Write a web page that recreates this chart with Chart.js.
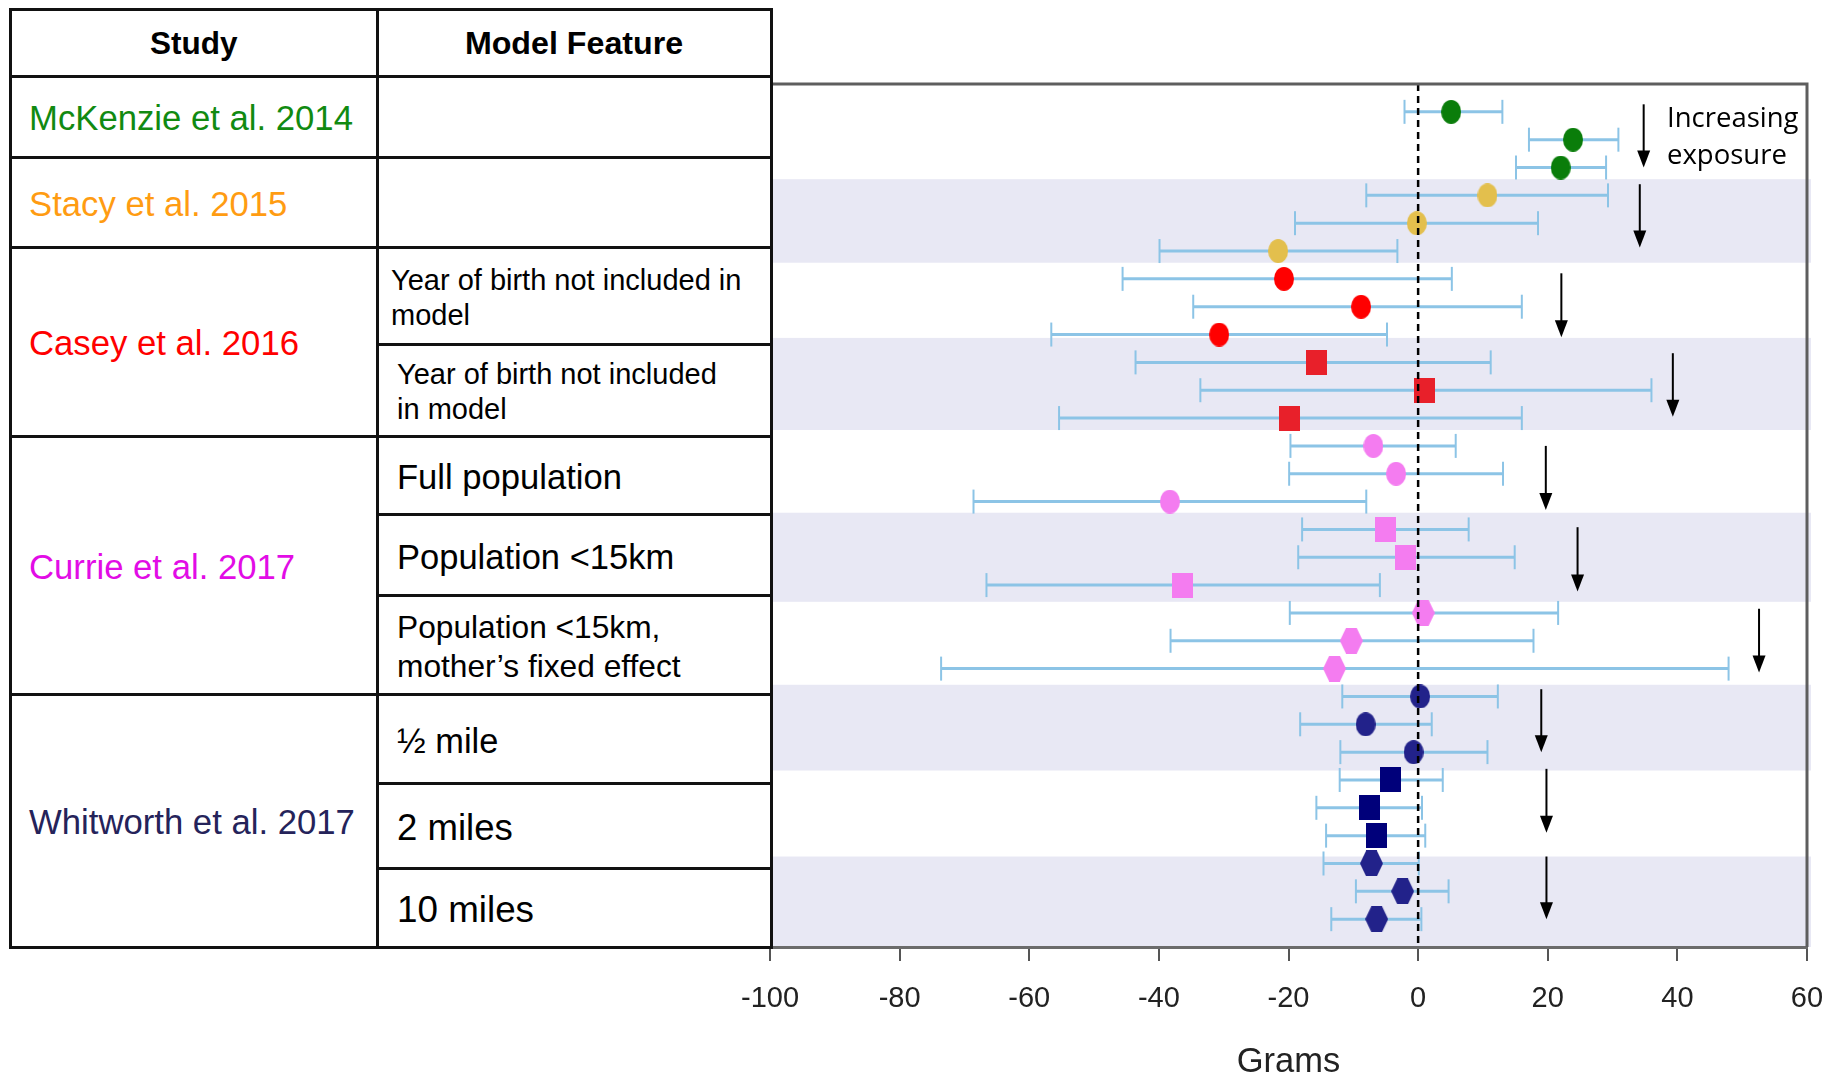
<!DOCTYPE html>
<html>
<head>
<meta charset="utf-8">
<script src="https://cdn.jsdelivr.net/npm/chart.js@4.4.0/dist/chart.umd.min.js"></script>
<style>
  html, body { margin: 0; padding: 0; background: #fff; }
  body { width: 1829px; height: 1078px; overflow: hidden; position: relative; font-family: "Liberation Sans", Arial, sans-serif; }
  #plot { position: absolute; left: 0; top: 0; }
  .cell { position: absolute; box-sizing: border-box; border: 3px solid #111; display: flex; align-items: center; background: #fff; color: #000; padding-top: 4px; }
  .head { justify-content: center; font-weight: bold; font-size: 31.5px; padding-top: 2px; }
</style>
</head>
<body>
<canvas id="plot" width="1829" height="1078"></canvas>
<div id="table"></div>
<script>
// studies (left table)
const studies = ["McKenzie et al. 2014", "Stacy et al. 2015", "Casey et al. 2016", "Currie et al. 2017", "Whitworth et al. 2017"];
const studyColors = ["#118a11", "#ff9c12", "#ff0000", "#e20ce6", "#25235a"];
const features = ["", "", "Year of birth not included in<br>model", "Year of birth not included<br>in model",
  "Full population", "Population &lt;15km", "Population &lt;15km,<br>mother’s fixed effect",
  "½ mile", "2 miles", "10 miles"];

// estimates and 95% CI, grams (top row first)
const estimate = [5.1, 23.9, 22.0, 10.7, -0.2, -21.6, -20.7, -8.8, -30.7, -15.7, 1.0, -19.9,
  -6.9, -3.4, -38.3, -5.1, -1.9, -36.3, 0.8, -10.3, -12.9, 0.3, -8.1, -0.7, -4.3, -7.5, -6.4, -7.2, -2.4, -6.4];
const lower = [-2.1, 17.1, 15.1, -8.0, -19.0, -39.9, -45.6, -34.7, -56.6, -43.6, -33.6, -55.4,
  -19.7, -19.9, -68.6, -17.9, -18.5, -66.6, -19.8, -38.2, -73.6, -11.7, -18.2, -12.0, -12.1, -15.7, -14.2, -14.6, -9.6, -13.4];
const upper = [13.0, 30.9, 29.0, 29.3, 18.5, -3.2, 5.2, 16.0, -4.8, 11.2, 36.0, 16.0,
  5.8, 13.1, -8.0, 7.8, 14.9, -5.9, 21.6, 17.8, 47.9, 12.3, 2.1, 10.7, 3.8, 0.6, 1.1, 0.1, 4.7, 0.5];

// one marker per block of three rows
const blockShape = ["ellipse", "ellipse", "ellipse", "square", "ellipse", "square", "hexagon", "ellipse", "square", "hexagon"];
const blockColor = ["#0a7d0a", "#e3bf4d", "#ff0000", "#e8202a", "#f47cf0", "#f47cf0", "#f47cf0", "#22228a", "#00007a", "#22228a"];

// "increasing exposure" arrows: x value, from row, to row
const arrowX = [34.8, 34.2, 22.1, 39.3, 19.7, 24.6, 52.6, 19.0, 19.8, 19.8];
const arrowFrom = [-0.27, 2.6, 5.8, 8.67, 12.0, 14.92, 17.85, 20.74, 23.6, 26.75];
const arrowTo = [2.0, 4.87, 8.1, 10.95, 14.3, 17.23, 20.14, 23.0, 25.9, 29.0];

const xTicks = [-100, -80, -60, -40, -20, 0, 20, 40, 60];
const bands = [[2.42, 5.42], [8.12, 11.43], [14.4, 17.6], [20.58, 23.66], [26.75, 30]];

// ---- table ----
const rowEdges = [9, 76, 157, 247, 344, 436, 514, 595, 694, 783, 868, 947];
const colEdges = [10.5, 377, 771];
const studySpan = [[1, 2], [2, 3], [3, 5], [5, 8], [8, 11]];
const featSize = [34, 34, 29, 29, 34.6, 34.5, 31.7, 34.4, 36.6, 36.8];
const featLine = [40, 40, 35, 35, 40, 40, 38.5, 40, 40, 40];
const featPad = [18, 18, 12.5, 18.5, 18.5, 18.5, 18.5, 18.5, 18.5, 18.5];

function cell(x0, y0, x1, y1, cls, style, html) {
  return `<div class="cell ${cls}" style="left:${x0 - 1.5}px;top:${y0 - 1.5}px;width:${x1 - x0 + 3}px;height:${y1 - y0 + 3}px;${style}">${html}</div>`;
}

let t = "";
t += cell(colEdges[0], rowEdges[0], colEdges[1], rowEdges[1], "head", "", "Study");
t += cell(colEdges[1], rowEdges[0], colEdges[2], rowEdges[1], "head", "font-size:32.2px;", "Model Feature");
studies.forEach((s, i) => {
  const [a, b] = studySpan[i];
  t += cell(colEdges[0], rowEdges[a], colEdges[1], rowEdges[b], "",
    `font-size:34.7px;padding-left:17px;color:${studyColors[i]};`, s);
});
features.forEach((f, i) => {
  t += cell(colEdges[1], rowEdges[i + 1], colEdges[2], rowEdges[i + 2], "",
    `font-size:${featSize[i]}px;line-height:${featLine[i]}px;padding-left:${featPad[i]}px;`, `<div>${f}</div>`);
});
document.getElementById("table").innerHTML = t;

// ---- markers ----
function markerCanvas(shape, color) {
  const w = shape === "hexagon" ? 23 : (shape === "square" ? 21 : 20);
  const h = shape === "hexagon" ? 26 : (shape === "square" ? 25 : 24);
  const c = document.createElement("canvas");
  c.width = w; c.height = h;
  const g = c.getContext("2d");
  g.fillStyle = color;
  g.beginPath();
  if (shape === "ellipse") g.ellipse(w / 2, h / 2, w / 2, h / 2, 0, 0, Math.PI * 2);
  else if (shape === "square") g.rect(0, 0, w, h);
  else {
    g.moveTo(0, h / 2); g.lineTo(w * 0.27, 0); g.lineTo(w * 0.73, 0);
    g.lineTo(w, h / 2); g.lineTo(w * 0.73, h); g.lineTo(w * 0.27, h);
    g.closePath();
  }
  g.fill();
  return c;
}
const blockMarkers = blockShape.map((s, i) => markerCanvas(s, blockColor[i]));
const pointStyles = estimate.map((v, i) => blockMarkers[Math.floor(i / 3)]);

const forestPlugin = {
  id: "forest",
  beforeDraw(chart) {
    const { ctx, chartArea: a, scales: { y } } = chart;
    ctx.save();
    ctx.fillStyle = "#e8e8f4";
    bands.forEach(([b0, b1]) => {
      const p0 = y.getPixelForValue(b0), p1 = y.getPixelForValue(b1);
      ctx.fillRect(a.left, p0, a.right - a.left + 4, p1 - p0);
    });
    ctx.restore();
  },
  beforeDatasetsDraw(chart) {
    const { ctx, scales: { x, y } } = chart;
    ctx.save();
    ctx.strokeStyle = "#8cc4e6";
    lower.forEach((lo, i) => {
      const py = y.getPixelForValue(i);
      const x0 = x.getPixelForValue(lo), x1 = x.getPixelForValue(upper[i]);
      ctx.lineWidth = 3;
      ctx.beginPath(); ctx.moveTo(x0, py); ctx.lineTo(x1, py); ctx.stroke();
      ctx.lineWidth = 2;
      [x0, x1].forEach(px => {
        ctx.beginPath(); ctx.moveTo(px, py - 12); ctx.lineTo(px, py + 12); ctx.stroke();
      });
    });
    ctx.restore();
  },
  afterDatasetsDraw(chart) {
    const { ctx, chartArea: a, scales: { x, y } } = chart;
    ctx.save();
    // zero line
    const zx = x.getPixelForValue(0);
    ctx.strokeStyle = "#000";
    ctx.lineWidth = 2.5;
    ctx.setLineDash([7, 5]);
    ctx.beginPath(); ctx.moveTo(zx, a.top); ctx.lineTo(zx, a.bottom); ctx.stroke();
    ctx.setLineDash([]);
    // arrows
    ctx.fillStyle = "#000";
    ctx.lineWidth = 2;
    arrowX.forEach((v, i) => {
      const px = x.getPixelForValue(v);
      const y0 = y.getPixelForValue(arrowFrom[i]), y1 = y.getPixelForValue(arrowTo[i]);
      ctx.beginPath(); ctx.moveTo(px, y0); ctx.lineTo(px, y1 - 14); ctx.stroke();
      ctx.beginPath(); ctx.moveTo(px - 6.5, y1 - 17); ctx.lineTo(px + 6.5, y1 - 17); ctx.lineTo(px, y1); ctx.closePath(); ctx.fill();
    });
    // label
    ctx.font = '27.5px "Open Sans"';
    ctx.textBaseline = "alphabetic";
    ctx.fillText("Increasing", x.getPixelForValue(38.4), 127);
    ctx.fillText("exposure", x.getPixelForValue(38.4), 164);
    // frame top and right
    ctx.strokeStyle = "#5e5e5e";
    ctx.lineWidth = 3;
    ctx.beginPath(); ctx.moveTo(a.left, a.top); ctx.lineTo(a.right, a.top); ctx.lineTo(a.right, a.bottom); ctx.stroke();
    ctx.restore();
  }
};

new Chart(document.getElementById("plot"), {
  type: "scatter",
  data: {
    datasets: [{
      data: estimate.map((v, i) => ({ x: v, y: i })),
      pointStyle: pointStyles,
      pointRadius: 10,
      backgroundColor: "#000"
    }]
  },
  options: {
    responsive: false,
    animation: false,
    layout: { padding: { left: 770, right: 22, top: 84, bottom: 0 } },
    plugins: { legend: { display: false }, tooltip: { enabled: false } },
    scales: {
      x: {
        type: "linear",
        min: -100, max: 60,
        afterFit: scale => {
          scale.height = 131;
          scale.paddingLeft = 0;
          scale.paddingRight = 0;
        },
        afterBuildTicks: scale => { scale.ticks = xTicks.map(v => ({ value: v })); },
        ticks: { color: "#222", font: { family: "Liberation Sans", size: 29 }, padding: 21, maxRotation: 0 },
        grid: { drawOnChartArea: false, drawTicks: true, tickLength: 14, color: "#555", lineWidth: 2 },
        border: { display: true, color: "#6b6b6b", width: 3 },
        title: { display: true, text: "Grams", color: "#222", font: { family: "Liberation Sans", size: 34.5 }, padding: { top: 0, bottom: -5 } }
      },
      y: {
        type: "linear",
        min: -1, max: 30,
        reverse: true,
        display: false
      }
    }
  },
  plugins: [forestPlugin]
});
</script>
</body>
</html>
